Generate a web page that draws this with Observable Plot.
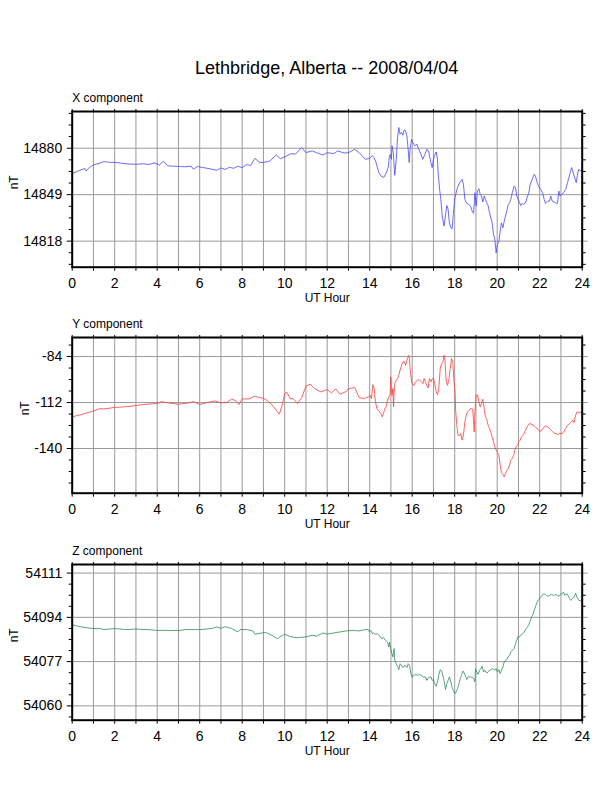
<!DOCTYPE html>
<html><head><meta charset="utf-8">
<script src="https://cdn.jsdelivr.net/npm/d3@7"></script>
<script src="https://cdn.jsdelivr.net/npm/@observablehq/plot@0.6"></script>
<style>
body{margin:0;background:#fff;}
#page{position:relative;width:612px;height:792px;font-family:"Liberation Sans",Arial,Helvetica,sans-serif;}
#title{position:absolute;left:71.7px;width:510px;top:57px;text-align:center;font-size:18px;line-height:22px;color:#000;}
</style></head><body>
<div id="page"><div id="title">Lethbridge, Alberta -- 2008/04/04</div></div>
<script>
// ---------- data ----------
const hourTicks = [0,1,2,3,4,5,6,7,8,9,10,11,12,13,14,15,16,17,18,19,20,21,22,23,24];
const hourLabels = [0,2,4,6,8,10,12,14,16,18,20,22,24];

const xMajor = [14818,14849,14880];
const xMinor = [14802.5,14810.25,14825.75,14833.5,14841.25,14856.75,14864.5,14872.25,14887.75,14895.5,14903.25];
const yMajor = [-140,-112,-84];
const yMinor = [-161,-154,-147,-133,-126,-119,-105,-98,-91,-77];
const zMajor = [54060,54077,54094,54111];
const zMinor = [54055.75,54064.25,54068.5,54072.75,54081.25,54085.5,54089.75,54098.25,54102.5,54106.75];

const xHour = [0,0.3,0.6,0.65,0.8,1.0,1.3,1.5,1.8,2.0,2.3,2.6,3.0,3.3,3.6,3.9,4.1,4.3,4.5,4.8,5.0,5.3,5.6,5.7,5.9,6.2,6.5,6.8,7.0,7.2,7.4,7.6,7.8,8.0,8.2,8.4,8.6,8.8,9.0,9.3,9.6,9.8,10.0,10.3,10.5,10.8,11.0,11.3,11.5,11.8,12.0,12.3,12.5,12.8,13.0,13.3,13.5,13.8,
13.99,14.12,14.21,14.30,14.43,14.56,14.67,14.77,14.87,14.93,14.98,15.02,15.05,15.11,15.18,15.25,15.31,15.37,15.43,15.50,15.56,15.62,15.69,15.75,15.81,15.86,15.90,15.97,16.03,16.12,16.22,16.31,16.41,16.50,16.60,16.69,16.78,16.88,16.94,17.00,17.06,17.13,17.19,17.22,17.29,17.35,17.41,17.50,17.56,17.63,17.69,17.75,17.82,17.88,17.94,18.01,18.07,18.13,18.23,18.35,18.41,18.48,18.57,18.67,18.76,18.82,18.89,18.95,19.01,19.07,19.14,19.20,19.26,19.32,19.39,19.45,19.51,19.57,19.64,19.70,19.76,19.83,19.89,19.95,20.01,20.08,20.14,20.20,20.27,20.33,20.39,20.45,20.52,20.58,20.64,20.71,20.80,20.86,20.92,20.99,21.05,21.11,21.18,21.24,21.33,21.43,21.49,21.55,21.65,21.74,21.80,21.86,21.96,22.05,22.14,22.21,22.27,22.37,22.46,22.52,22.59,22.68,22.78,22.84,22.90,22.96,23.03,23.12,23.22,23.31,23.37,23.44,23.50,23.56,23.62,23.72,23.78,23.84,23.94,24.00];
const xNT = [14863.0,14865.0,14866.5,14864.8,14867.0,14868.8,14870.0,14871.1,14870.5,14870.6,14870.0,14869.5,14869.3,14869.6,14869.2,14870.2,14868.8,14871.3,14868.2,14868.0,14867.9,14867.6,14868.0,14866.0,14867.8,14867.0,14866.2,14865.3,14866.8,14865.8,14867.3,14866.6,14868.0,14867.0,14869.0,14868.5,14873.3,14870.6,14870.4,14871.5,14875.5,14873.0,14874.2,14876.4,14876.0,14880.4,14877.1,14878.2,14877.0,14875.5,14877.0,14876.4,14878.2,14876.8,14877.0,14879.3,14877.0,14872.6,
14873.1,14874.9,14873.8,14870.4,14863.7,14861.0,14860.6,14863.3,14867.1,14874.9,14876.0,14872.6,14881.6,14877.1,14861.9,14872.6,14887.1,14893.8,14889.4,14890.5,14888.7,14892.3,14891.6,14888.3,14879.3,14870.4,14879.3,14886.0,14883.8,14881.6,14882.7,14879.3,14876.0,14872.6,14876.0,14879.3,14877.5,14870.4,14867.1,14872.6,14875.3,14877.5,14872.6,14863.7,14852.5,14845.8,14834.7,14828.0,14834.7,14841.8,14839.2,14830.2,14826.9,14826.2,14836.9,14847.0,14850.3,14853.7,14857.0,14859.2,14855.9,14845.8,14843.2,14842.5,14840.9,14838.0,14836.5,14850.3,14841.4,14851.4,14853.0,14849.2,14848.1,14844.1,14848.1,14845.8,14843.6,14841.8,14836.9,14833.6,14830.2,14822.4,14819.1,14810.1,14815.7,14817.9,14824.6,14830.2,14826.9,14831.3,14834.7,14838.0,14842.5,14843.6,14845.8,14850.3,14854.8,14853.7,14848.1,14845.8,14843.6,14841.8,14843.2,14842.5,14843.6,14848.1,14850.3,14855.9,14859.2,14862.6,14861.5,14858.1,14854.3,14852.5,14849.9,14845.8,14843.2,14844.7,14844.7,14848.1,14844.7,14844.1,14843.2,14843.2,14851.4,14848.1,14849.2,14850.3,14852.5,14857.0,14860.4,14863.7,14867.1,14864.8,14861.5,14857.0,14862.6,14865.9,14864.8,14865.9];

const yHour = [0,0.5,1.0,1.3,1.5,2.0,2.5,3.0,3.5,4.0,4.2,4.5,5.0,5.5,5.7,6.0,6.3,6.7,7.0,7.3,7.5,7.7,7.85,8.0,8.3,8.6,8.8,9.0,9.2,9.4,9.6,9.75,9.9,10.0,10.1,10.25,10.4,10.6,10.8,11.0,11.2,11.4,11.7,12.0,12.2,12.4,12.6,12.9,13.0,13.3,13.5,13.7,
13.80,13.93,14.02,14.08,14.15,14.21,14.27,14.34,14.40,14.46,14.52,14.59,14.65,14.71,14.77,14.84,14.90,14.96,14.99,15.02,15.05,15.09,15.12,15.15,15.18,15.25,15.31,15.37,15.43,15.50,15.56,15.62,15.69,15.75,15.81,15.84,15.87,15.90,15.97,16.03,16.09,16.16,16.25,16.34,16.44,16.50,16.56,16.63,16.69,16.75,16.81,16.88,16.94,17.00,17.06,17.13,17.19,17.25,17.32,17.38,17.44,17.50,17.54,17.60,17.66,17.72,17.79,17.85,17.91,17.97,18.01,18.04,18.10,18.16,18.23,18.29,18.35,18.41,18.48,18.54,18.60,18.67,18.73,18.79,18.85,18.92,18.95,18.98,19.01,19.07,19.14,19.20,19.26,19.32,19.39,19.45,19.51,19.57,19.64,19.70,19.76,19.83,19.89,19.95,20.01,20.08,20.14,20.20,20.27,20.33,20.39,20.45,20.52,20.58,20.64,20.71,20.77,20.83,20.89,20.96,21.02,21.08,21.14,21.21,21.27,21.33,21.39,21.46,21.52,21.58,21.65,21.74,21.83,21.93,22.02,22.11,22.21,22.30,22.40,22.49,22.59,22.68,22.78,22.87,22.96,23.06,23.15,23.22,23.31,23.40,23.50,23.56,23.62,23.69,23.75,23.84,23.94,24.00];
const yNT = [-120.7,-119.1,-117.1,-115.7,-115.9,-115.0,-114.6,-113.8,-113.0,-112.6,-111.4,-112.2,-113.0,-112.2,-111.4,-113.2,-112.2,-111.0,-112.2,-111.8,-109.8,-111.0,-113.2,-109.8,-109.8,-108.1,-109.0,-109.4,-111.0,-113.4,-116.7,-119.1,-112.6,-106.5,-105.7,-109.6,-109.6,-112.6,-109.0,-102.1,-100.8,-103.5,-105.5,-104.1,-106.1,-103.7,-106.9,-105.3,-103.5,-102.9,-109.0,-109.6,
-109.2,-108.6,-107.6,-109.6,-101.1,-103.5,-111.6,-115.7,-116.7,-117.3,-118.7,-120.7,-118.7,-115.7,-114.7,-110.6,-108.6,-107.6,-96.4,-103.5,-107.6,-103.5,-114.7,-105.5,-100.5,-98.4,-97.5,-95.4,-92.3,-89.3,-87.3,-86.9,-89.3,-86.3,-84.2,-83.3,-85.2,-91.3,-99.4,-101.1,-101.5,-99.4,-98.4,-98.2,-99.4,-100.5,-97.4,-99.9,-101.5,-103.1,-97.4,-99.4,-97.4,-97.4,-100.5,-105.5,-107.2,-103.5,-91.3,-88.3,-87.3,-83.3,-86.3,-98.4,-101.5,-98.4,-91.3,-85.2,-87.3,-99.4,-104.5,-115.7,-125.8,-131.9,-132.3,-130.9,-134.9,-131.9,-123.8,-119.7,-117.7,-116.7,-115.7,-115.7,-116.1,-129.9,-117.7,-112.6,-107.6,-107.2,-111.6,-114.7,-112.6,-110.0,-115.7,-120.7,-122.2,-125.8,-127.8,-130.3,-132.9,-135.9,-139.0,-141.0,-142.4,-144.1,-150.1,-154.6,-155.8,-157.2,-155.2,-153.2,-152.2,-150.1,-147.1,-146.1,-144.1,-141.0,-139.0,-138.0,-135.9,-134.9,-132.9,-131.9,-130.9,-128.9,-127.4,-125.8,-124.8,-125.0,-125.4,-126.2,-127.4,-128.5,-129.5,-128.7,-126.8,-126.2,-127.0,-128.2,-129.5,-130.7,-130.9,-131.5,-130.7,-130.9,-129.5,-127.8,-125.8,-124.8,-123.8,-122.8,-124.2,-119.7,-117.7,-118.1,-117.7,-118.7];

const zHour = [0,0.3,0.7,1.0,1.3,1.5,2.0,2.5,3.0,3.5,4.0,4.5,5.0,5.3,5.5,6.0,6.3,6.6,6.8,7.0,7.2,7.5,7.8,7.9,8.2,8.5,8.6,8.9,9.1,9.4,9.65,9.9,10.0,10.3,10.6,11.0,11.3,11.5,11.8,12.0,12.3,12.6,12.9,13.2,13.5,13.8,
13.93,13.99,14.05,14.12,14.18,14.27,14.37,14.46,14.56,14.65,14.74,14.84,14.90,14.93,14.99,15.02,15.09,15.15,15.18,15.25,15.31,15.37,15.43,15.50,15.56,15.65,15.75,15.81,15.87,15.94,16.00,16.06,16.16,16.25,16.34,16.44,16.53,16.63,16.69,16.78,16.88,16.94,17.00,17.06,17.13,17.19,17.25,17.32,17.38,17.44,17.50,17.57,17.63,17.69,17.75,17.82,17.88,17.94,18.01,18.07,18.13,18.20,18.26,18.32,18.38,18.45,18.51,18.57,18.63,18.70,18.76,18.82,18.89,18.95,18.98,19.04,19.10,19.17,19.23,19.29,19.36,19.42,19.51,19.61,19.70,19.79,19.89,19.95,20.01,20.08,20.14,20.20,20.27,20.33,20.39,20.45,20.52,20.58,20.64,20.71,20.80,20.86,20.92,20.99,21.05,21.11,21.18,21.24,21.30,21.36,21.43,21.49,21.55,21.61,21.68,21.74,21.80,21.86,21.93,22.02,22.11,22.21,22.27,22.37,22.46,22.56,22.65,22.74,22.84,22.90,22.96,23.06,23.12,23.18,23.28,23.34,23.40,23.47,23.53,23.62,23.69,23.75,23.84,23.94,24.00];
const zNT = [54091.2,54090.5,54090.0,54089.7,54089.7,54089.3,54089.7,54089.3,54089.5,54089.3,54089.0,54089.0,54088.9,54089.3,54089.3,54089.3,54089.5,54089.8,54090.3,54089.8,54090.4,54089.7,54088.4,54089.3,54089.3,54088.8,54087.5,54088.0,54088.2,54087.1,54085.8,54087.1,54087.5,54086.5,54086.2,54086.5,54087.1,54086.8,54088.0,54087.5,54088.0,54088.4,54088.8,54089.0,54088.8,54089.3,
54089.3,54088.4,54089.0,54087.7,54088.0,54087.5,54087.7,54087.0,54085.8,54086.2,54085.2,54084.5,54082.6,54084.5,54082.0,54080.7,54078.8,54082.0,54077.5,54076.2,54075.2,54073.9,54076.2,54075.6,54074.7,54075.6,54074.7,54076.2,54075.6,54072.4,54070.9,54071.7,54072.1,54071.7,54072.1,54071.7,54071.1,54071.1,54069.8,54070.9,54071.1,54069.8,54070.1,54068.6,54067.5,54069.2,54071.7,54073.9,54073.4,54071.7,54069.8,54066.3,54068.6,54069.8,54071.1,54069.2,54067.0,54066.0,54064.7,54065.4,54066.6,54068.6,54070.5,54071.7,54073.4,54072.6,54071.4,54070.1,54071.1,54071.4,54070.9,54071.1,54070.5,54069.2,54074.3,54073.0,54072.1,54073.7,54074.3,54075.2,54073.0,54073.7,54072.6,54073.4,54073.9,54074.3,54073.7,54074.3,54073.0,54073.9,54072.4,54073.7,54074.9,54076.9,54077.5,54077.8,54078.8,54079.4,54080.7,54081.3,54082.0,54083.9,54085.2,54086.7,54086.5,54087.1,54087.5,54088.0,54088.8,54089.7,54090.3,54091.3,54092.6,54093.9,54095.2,54096.7,54098.0,54099.5,54100.5,54101.5,54102.4,54103.1,54102.8,54102.1,54102.4,54102.8,54102.4,54102.8,54102.4,54102.1,54102.8,54103.1,54103.7,54102.4,54103.1,54102.4,54101.2,54100.5,54101.2,54101.8,54103.3,54101.8,54100.5,54100.3,54099.9];

// ---------- drawing ----------
const page = document.getElementById("page");
const FONT = "'Liberation Sans', Arial, Helvetica, sans-serif";
const fmt = d => String(d);
const blank = () => "";

function panel(hours, values, color, domain, majors, minors, name, nTdx, top) {
  const data = hours.map((h, i) => ({h, v: values[i]}));
  const svg = Plot.plot({
    width: 612, height: 231,
    marginLeft: 71.7, marginRight: 30.3, marginTop: 20, marginBottom: 55.3,
    x: {domain: [0, 24], label: null},
    y: {domain, label: null},
    style: {fontFamily: FONT, fontSize: "14px", color: "black", background: "transparent", overflow: "visible"},
    marks: [
      Plot.ruleX(hourTicks, {x: d => d, stroke: "#999", strokeWidth: 1}),
      Plot.ruleY(majors, {y: d => d, stroke: "#999", strokeWidth: 1}),
      Plot.line(data, {x: "h", y: "v", stroke: color, strokeWidth: 0.8}),
      Plot.axisX(hourTicks, {anchor: "bottom", tickSize: 4, tickFormat: blank, fill: "none", label: null}),
      Plot.axisX(hourTicks, {anchor: "top", tickSize: 3, tickFormat: blank, fill: "none", label: null}),
      Plot.axisX(hourLabels, {anchor: "bottom", tickSize: 0, tickPadding: 10.5, tickFormat: fmt, fontSize: 14, label: null}),
      Plot.axisY(minors, {anchor: "left", tickSize: 3, tickFormat: blank, fill: "none", label: null}),
      Plot.axisY(minors, {anchor: "right", tickSize: 3, tickFormat: blank, fill: "none", label: null}),
      Plot.axisY(majors, {anchor: "right", tickSize: 5, stroke: "#999", tickFormat: blank, fill: "none", label: null}),
      Plot.axisY(majors, {anchor: "left", tickSize: 5, tickPadding: 5, tickFormat: fmt, fontSize: 14, label: null}),
      Plot.frame({stroke: "black", strokeWidth: 2}),
      Plot.text([name], {text: d => d, frameAnchor: "top-left", textAnchor: "start", lineAnchor: "middle", dy: -13, fontSize: 12}),
      Plot.text(["nT"], {text: d => d, frameAnchor: "left", rotate: -90, lineAnchor: "middle", dx: nTdx, fontSize: 12}),
      Plot.text(["UT Hour"], {text: d => d, frameAnchor: "bottom", lineAnchor: "middle", dy: 31, fontSize: 12})
    ]
  });
  svg.style.position = "absolute";
  svg.style.left = "0px";
  svg.style.top = top + "px";
  page.appendChild(svg);
}

panel(xHour, xNT, "#4646ff", [14800.6, 14904.5], xMajor, xMinor, "X component", -57.7, 90.7);
panel(yHour, yNT, "#ff3b3b", [-167.2, -72.4], yMajor, yMinor, "Y component", -46.7, 317.3);
panel(zHour, zNT, "#2e8b57", [54054.5, 54114.3], zMajor, zMinor, "Z component", -57.7, 544);
</script>
</body></html>
